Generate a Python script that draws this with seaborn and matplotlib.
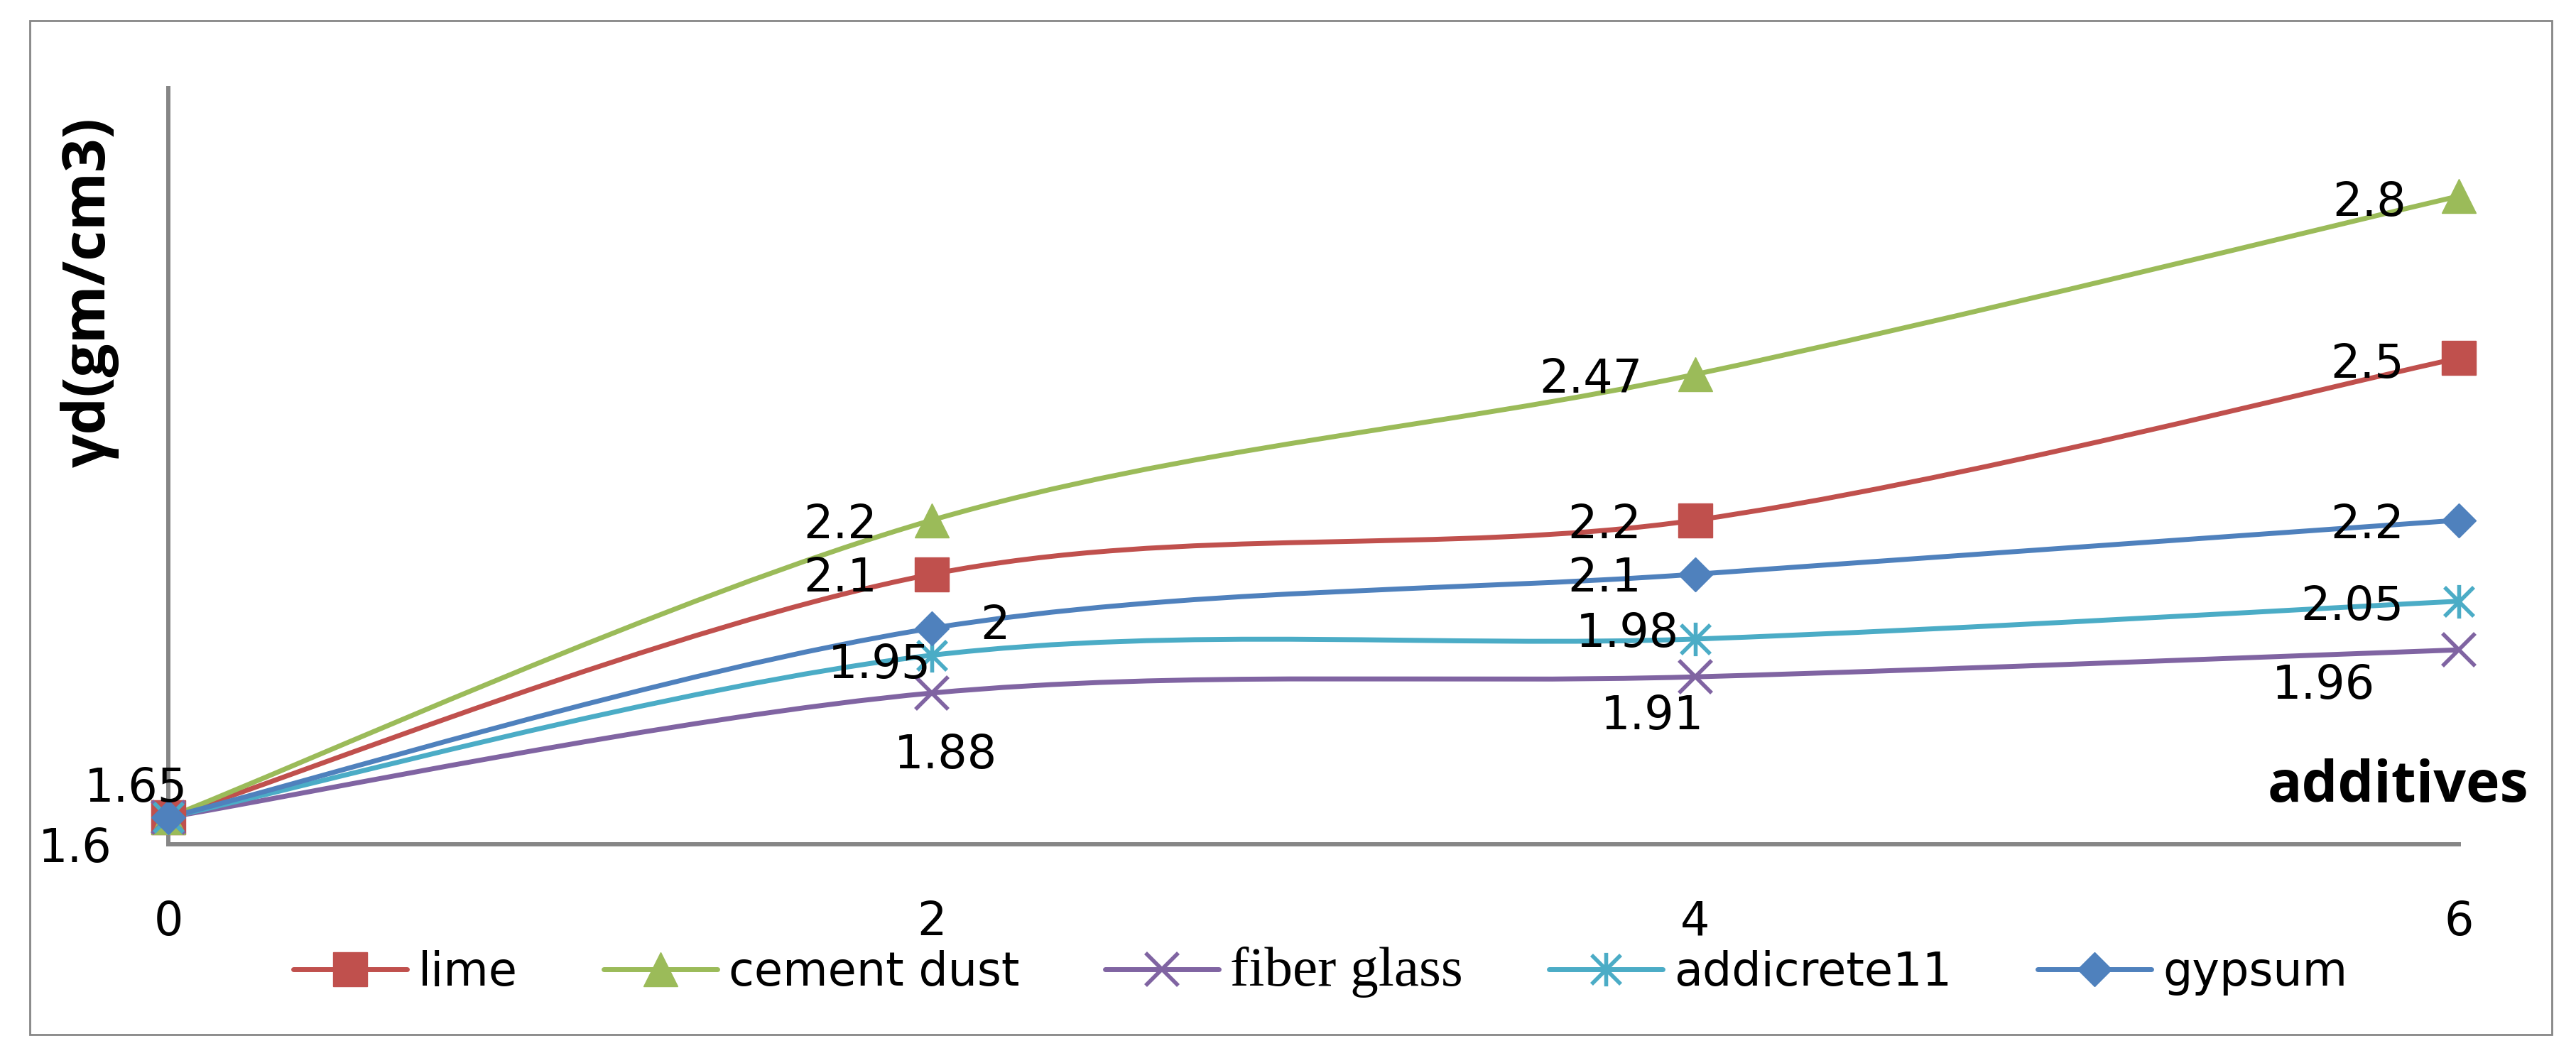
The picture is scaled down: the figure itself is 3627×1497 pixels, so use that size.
import numpy as np
import pandas as pd
import matplotlib
matplotlib.use("Agg")
import matplotlib.pyplot as plt
import seaborn as sns
from matplotlib.path import Path
from matplotlib.patches import PathPatch, Rectangle
from matplotlib.lines import Line2D

# ---------------- data ----------------
additives = [0, 2, 4, 6]
series_names = ["lime", "cement dust", "fiber glass", "addicrete11", "gypsum"]
lime = [1.65, 2.1, 2.2, 2.5]
cement_dust = [1.65, 2.2, 2.47, 2.8]
fiber_glass = [1.65, 1.88, 1.91, 1.96]
addicrete11 = [1.65, 1.95, 1.98, 2.05]
gypsum = [1.65, 2.0, 2.1, 2.2]
x_tick_labels = ["0", "2", "4", "6"]
y_tick_values = [1.6]
y_tick_labels = ["1.6"]
y_title = "γd(gm/cm3)"
x_title = "additives"

values = [lime, cement_dust, fiber_glass, addicrete11, gypsum]

# ---------------- style ----------------
sns.set_theme(style="white")
plt.rcParams["font.family"] = ["DejaVu Sans"]
plt.rcParams["text.color"] = "black"
plt.rcParams["axes.labelcolor"] = "black"
plt.rcParams["xtick.labelcolor"] = "black"
plt.rcParams["ytick.labelcolor"] = "black"

DPI = 100
W, H = 3627, 1497
FS = 47          # label font size (pt)
TFS = 60         # axis title font size (pt)
LW = 5.0
GRAY = "#868686"
colors = ["#C0504D", "#9BBB59", "#8064A2", "#4BACC6", "#4F81BD"]

ast_path = Path([(-1, -1), (1, 1), (-1, 1), (1, -1), (0, -1.15), (0, 1.15)],
                [Path.MOVETO, Path.LINETO, Path.MOVETO, Path.LINETO, Path.MOVETO, Path.LINETO])
markers = ["s", "^", "x", ast_path, "D"]
msizes = [34, 34, 33, 34, 24]
mews = [1, 1, 4, 4, 1]

# label placement per series / point: (dx_px, dy_px_center(down+), ha) or None
label_pos = [
    [(-46, -46, "center"), (-77, 1, "right"), (-76, 2, "right"), (-77, 4, "right")],
    [None, (-77, 2, "right"), (-74, 2, "right"), (-74, 4, "right")],
    [None, (19, 82, "center"), (-61, 50, "center"), (-191, 45, "center")],
    [None, (-1, 8, "right"), (-23, -13, "right"), (-77, 3, "right")],
    [None, (68, -9, "left"), (-76, 1, "right"), (-77, 2, "right")],
]

fig = plt.figure(figsize=(W / DPI, H / DPI), dpi=DPI)
fig.patch.set_facecolor("white")
ax = fig.add_axes([237 / W, 1 - 1189 / H, (3462 - 237) / W, (1189 - 124) / H])
ax.set_facecolor("white")


def smooth_path(xs, ys):
    pts = np.column_stack([xs, ys]).astype(float)
    n = len(pts)
    verts = [pts[0]]
    codes = [Path.MOVETO]
    for i in range(n - 1):
        p0 = pts[i - 1] if i > 0 else pts[i]
        p1 = pts[i]
        p2 = pts[i + 1]
        p3 = pts[i + 2] if i + 2 < n else pts[i + 1]
        c1 = p1 + (p2 - p0) / 6.0
        c2 = p2 - (p3 - p1) / 6.0
        verts += [c1, c2, p2]
        codes += [Path.CURVE4] * 3
    return Path(verts, codes)


df = pd.DataFrame({"additives": additives})
for name, vals in zip(series_names, values):
    df[name] = vals

# smoothed lines
for name, col in zip(series_names, colors):
    patch = PathPatch(smooth_path(df["additives"], df[name]), facecolor="none",
                      edgecolor=col, lw=LW, capstyle="round", joinstyle="round",
                      clip_on=False, zorder=2)
    ax.add_patch(patch)

# markers via seaborn
for i, (name, col) in enumerate(zip(series_names, colors)):
    sns.lineplot(data=df, x="additives", y=name, ax=ax, linestyle="none",
                 marker=markers[i], markersize=msizes[i], color=col,
                 markeredgecolor=col, markerfacecolor=col, markeredgewidth=mews[i],
                 clip_on=False, zorder=3 + i, legend=False)

ax.set_xlim(0, 6)
ax.set_ylim(1.6, 3.0)

# data labels
digit_h = FS / 72 * DPI * 0.729
for i, vals in enumerate(values):
    for j, v in enumerate(vals):
        lp = label_pos[i][j]
        if lp is None:
            continue
        dx, dy, ha = lp
        ax.annotate(f"{v:g}", (additives[j], v), xytext=(dx, -(dy + digit_h / 2)),
                    textcoords="offset pixels", ha=ha, va="baseline",
                    fontsize=FS, color="black", zorder=10, annotation_clip=False)

# axes styling
for s in ["top", "right"]:
    ax.spines[s].set_visible(False)
for s in ["left", "bottom"]:
    ax.spines[s].set_color(GRAY)
    ax.spines[s].set_linewidth(4.3)
    ax.spines[s].set_zorder(1)

ax.set_xticks(additives)
ax.set_xticklabels(x_tick_labels, fontsize=FS, color="black")
ax.set_yticks(y_tick_values)
ax.set_yticklabels(y_tick_labels, fontsize=FS, color="black")
ax.tick_params(axis="x", length=0, pad=56)
ax.tick_params(axis="y", length=17, width=4.3, color=GRAY, direction="out", pad=40)

ax.set_ylabel(y_title, fontsize=TFS, fontweight="bold", color="black",
              family=["Open Sans", "DejaVu Sans"])
ax.yaxis.set_label_coords((126 - 237) / 3225, (1189 - 412) / 1065)
ax.yaxis.label.set_va("center")
ax.yaxis.label.set_ha("center")

ax.set_xlabel(x_title, fontsize=58, fontweight="bold", color="black",
              family=["Open Sans", "DejaVu Sans"])
ax.xaxis.set_label_coords((3560 - 237) / 3225, (1189 - 1129) / 1065)
ax.xaxis.label.set_ha("right")
ax.xaxis.label.set_va("baseline")

# legend
handles = [Line2D([], [], color=c, lw=LW, marker=m, markersize=ms, markeredgewidth=mw,
                  markerfacecolor=c, markeredgecolor=c)
           for c, m, ms, mw in zip(colors, markers, msizes, mews)]
leg = fig.legend(handles, series_names, loc="center", ncol=5,
                 bbox_to_anchor=(1859 / W, 1 - 1369 / H), frameon=False,
                 fontsize=FS, handlelength=2.45, handletextpad=0.25,
                 columnspacing=1.85, numpoints=1)
for t in leg.get_texts():
    t.set_color("black")
leg.get_texts()[2].set_family(["Liberation Serif", "DejaVu Serif"])
leg.get_texts()[2].set_fontsize(57)

# outer chart border
fig.patches.append(Rectangle((42 / W, 1 - 1457 / H), (3593 - 42) / W, (1457 - 29) / H,
                             transform=fig.transFigure, fill=False, edgecolor=GRAY,
                             lw=2, zorder=0))

fig.savefig("out.png", dpi=DPI, facecolor="white")
